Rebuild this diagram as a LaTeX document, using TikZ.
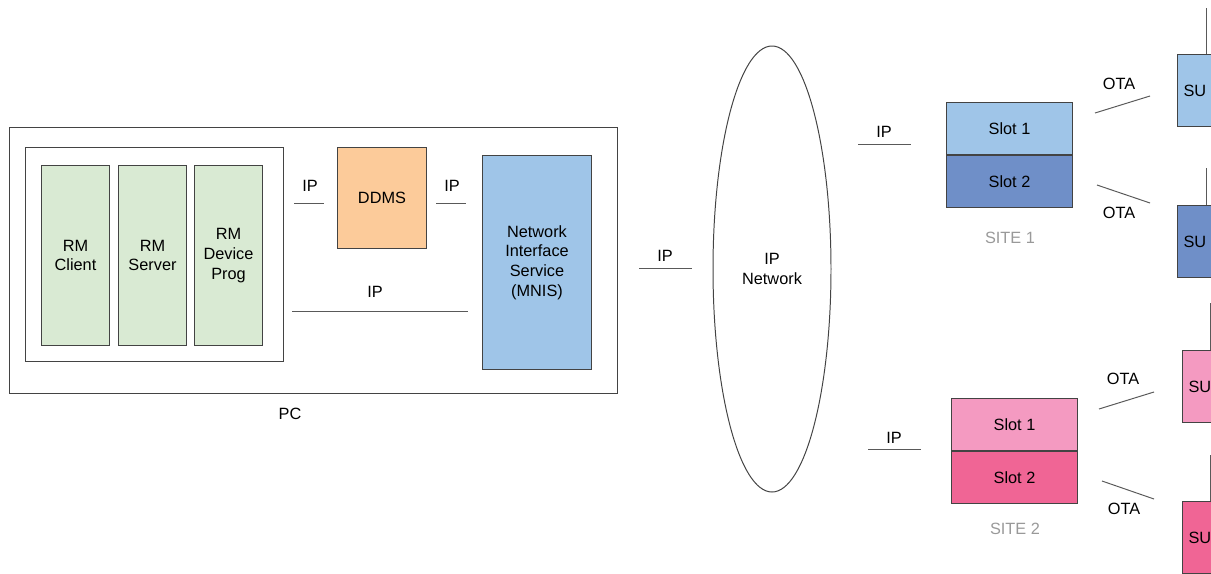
\documentclass[tikz,border=0pt]{standalone}
\usepackage{fontspec}
\setmainfont{Liberation Sans}
\usetikzlibrary{shapes.geometric}
\definecolor{RMGreen}{HTML}{D9EAD3}
\definecolor{DDMSOrange}{HTML}{FCCB9A}
\definecolor{MNISBlue}{HTML}{9FC5E8}
\definecolor{SiteBlue}{HTML}{6F8FC8}
\definecolor{SitePink}{HTML}{F49AC1}
\definecolor{SiteRose}{HTML}{F06595}
\definecolor{EdgeGrey}{HTML}{434343}
\definecolor{WireGrey}{HTML}{595959}
\definecolor{SiteGrey}{HTML}{999999}
\newcommand{\px}{0.025cm}

\begin{document}
\begin{tikzpicture}[x=\px,y=-\px,
  box/.style={draw=EdgeGrey,line width=0.7pt,anchor=north west,inner sep=0pt,align=center,font=\fontsize{11.6}{14}\selectfont},
  subox/.style={box,minimum height=72*\px,text width=48*\px,inner xsep=6*\px,align=left},
  wire/.style={draw=WireGrey,line width=0.7pt},
  lbl/.style={inner sep=0pt,align=center,font=\fontsize{11.6}{14}\selectfont}]
\path[use as bounding box] (0,0) rectangle (1211,573);
\clip (0,0) rectangle (1211,573);
\node[box,minimum width=608*\px,minimum height=266*\px] (pc) at (9,127) {};
\node[lbl] (pclbl) at (290,414) {PC};
\node[box,minimum width=258*\px,minimum height=214*\px] (rm) at (25,147) {};
\node[box,fill=RMGreen,minimum width=68*\px,minimum height=180*\px] (client) at (41,165) {RM\\Client};
\node[box,fill=RMGreen,minimum width=68*\px,minimum height=180*\px] (server) at (118,165) {RM\\Server};
\node[box,fill=RMGreen,minimum width=68*\px,minimum height=180*\px] (prog) at (194,165) {RM\\Device\\Prog};
\node[box,fill=DDMSOrange,minimum width=89*\px,minimum height=101*\px] (ddms) at (337,147) {DDMS};
\node[box,fill=MNISBlue,minimum width=109*\px,minimum height=214*\px] (mnis) at (482,155) {Network\\Interface\\Service\\(MNIS)};
\coordinate (ipa) at (294,203);
\coordinate (ipb) at (324,203);
\draw[wire] (ipa) -- (ipb);
\node[lbl] (ipab) at (310,186) {IP};
\coordinate (ipc) at (436,203);
\coordinate (ipd) at (466,203);
\draw[wire] (ipc) -- (ipd);
\node[lbl] (ipcd) at (452,186) {IP};
\coordinate (ipe) at (292,311);
\coordinate (ipf) at (468,311);
\draw[wire] (ipe) -- (ipf);
\node[lbl] (ipef) at (375,292) {IP};
\coordinate (ipg) at (639,268);
\coordinate (iph) at (692,268);
\draw[wire] (ipg) -- (iph);
\node[lbl] (ipgh) at (665,256) {IP};
\node[ellipse,draw=EdgeGrey,line width=0.7pt,inner sep=0pt,minimum width=118*\px,minimum height=446*\px,align=center,font=\fontsize{11.6}{14}\selectfont] (net) at (772,269) {IP\\Network};
\coordinate (ipi) at (858,144);
\coordinate (ipj) at (911,144);
\draw[wire] (ipi) -- (ipj);
\node[lbl] (ipij) at (884,132) {IP};
\node[box,fill=MNISBlue,minimum width=126*\px,minimum height=52*\px] (sa1) at (946,102) {Slot 1};
\node[box,fill=SiteBlue,minimum width=126*\px,minimum height=52*\px] (sa2) at (sa1.south west) {Slot 2};
\node[lbl,text=SiteGrey] (sitea) at (1010,238) {SITE 1};
\coordinate (ipk) at (868,449);
\coordinate (ipl) at (921,449);
\draw[wire] (ipk) -- (ipl);
\node[lbl] (ipkl) at (894,438) {IP};
\node[box,fill=SitePink,minimum width=126*\px,minimum height=52*\px] (sb1) at (951,398) {Slot 1};
\node[box,fill=SiteRose,minimum width=126*\px,minimum height=52*\px] (sb2) at (sb1.south west) {Slot 2};
\node[lbl,text=SiteGrey] (siteb) at (1015,529) {SITE 2};
\coordinate (otaa) at (1095,113);
\coordinate (otab) at (1150,96);
\draw[wire] (otaa) -- (otab);
\node[lbl] (otaab) at (1119,84) {OTA};
\coordinate (otac) at (1097,185);
\coordinate (otad) at (1150,203);
\draw[wire] (otac) -- (otad);
\node[lbl] (otacd) at (1119,213) {OTA};
\coordinate (otae) at (1099,409);
\coordinate (otaf) at (1154,392);
\draw[wire] (otae) -- (otaf);
\node[lbl] (otaef) at (1123,379) {OTA};
\coordinate (otag) at (1102,481);
\coordinate (otah) at (1154,499);
\draw[wire] (otag) -- (otah);
\node[lbl] (otagh) at (1124,509) {OTA};
\node[subox,fill=MNISBlue] (su1) at (1177,54) {SU};
\node[subox,fill=SiteBlue] (su2) at (1177,205) {SU};
\node[subox,fill=SitePink] (su3) at (1182,350) {SU};
\node[subox,fill=SiteRose] (su4) at (1182,501) {SU};
\coordinate (anta) at (1206,8);
\coordinate (antb) at (1206,168);
\coordinate (antc) at (1210,303);
\coordinate (antd) at (1210,455);
\draw[wire] (su1.north -| anta) -- (anta);
\draw[wire] (su2.north -| antb) -- (antb);
\draw[wire] (su3.north -| antc) -- (antc);
\draw[wire] (su4.north -| antd) -- (antd);
\end{tikzpicture}
\end{document}
